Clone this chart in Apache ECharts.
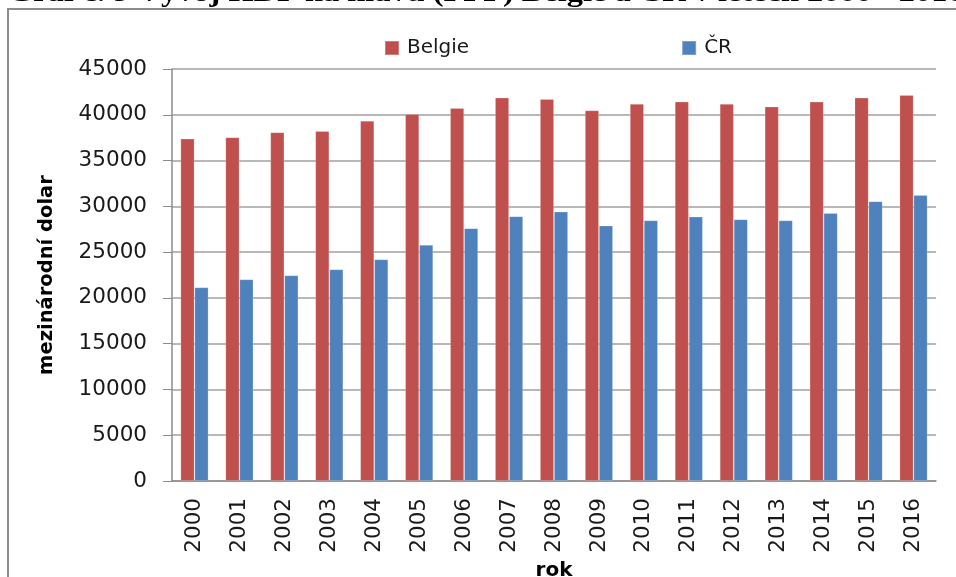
<!DOCTYPE html>
<html>
<head>
<meta charset="utf-8">
<script src="https://cdn.jsdelivr.net/npm/echarts@6/dist/echarts.min.js"></script>
<style>html,body{margin:0;padding:0;background:#fff}#c{width:956px;height:577px}</style>
</head>
<body>
<div id="c"></div>
<script>
const titleText = 'Graf č. 9 Vývoj HDP na hlavu (PPP) Belgie a ČR v letech 2000 - 2016';
const years = ['2000','2001','2002','2003','2004','2005','2006','2007','2008','2009','2010','2011','2012','2013','2014','2015','2016'];
const belgie = [37390,37540,38090,38230,39350,40080,40740,41870,41720,40480,41180,41430,41180,40890,41430,41870,42160];
const cr = [21150,22030,22460,23120,24210,25780,27600,28910,29420,27890,28470,28870,28580,28470,29270,30550,31240];
const seriesNames = ['Belgie','ČR'];

const chart = echarts.init(document.getElementById('c'), null, {renderer:'canvas'});
const tickFont = {fontFamily:'DejaVu Sans', fontSize:21.5, color:'#1a1a1a'};
chart.setOption({
  backgroundColor:'#fff',
  animation:false,
  graphic:[
    {type:'text', x:8, y:-19, scaleX:1.2, style:{text:titleText, font:'bold 27px "Liberation Serif"', fill:'#000'}},
    {type:'rect', shape:{x:8, y:9, width:1000, height:700}, style:{fill:'none', stroke:'#8c8c8c', lineWidth:2}}
  ],
  legend:{
    data:seriesNames, left:379, top:33, itemWidth:14, itemHeight:14, itemGap:212,
    icon:'rect',
    textStyle:{fontFamily:'DejaVu Sans', fontSize:20, color:'#1a1a1a', padding:[0,0,0,3]}
  },
  grid:{left:172, right:20, top:69, bottom:96, outerBoundsMode:'none', containLabel:false},
  xAxis:{
    type:'category', data:years,
    name:'rok', nameLocation:'middle', nameGap:75,
    nameTextStyle:{fontFamily:'DejaVu Sans', fontWeight:'bold', fontSize:20, color:'#000'},
    axisLine:{lineStyle:{color:'#8c8c8c', width:1.5}},
    axisTick:{length:9, lineStyle:{color:'#8c8c8c'}},
    axisLabel:Object.assign({rotate:90, margin:17, interval:0}, tickFont)
  },
  yAxis:{
    type:'value', min:0, max:45000, interval:5000,
    name:'mezinárodní dolar', nameLocation:'middle', nameGap:115,
    nameTextStyle:{fontFamily:'DejaVu Sans', fontWeight:'bold', fontSize:19.5, color:'#000'},
    axisLine:{show:true, lineStyle:{color:'#8c8c8c', width:1.5}},
    axisTick:{show:true, length:9, lineStyle:{color:'#8c8c8c'}},
    splitLine:{lineStyle:{color:'#a0a0a0', width:1.5}},
    axisLabel:Object.assign({margin:25, formatter:function(v){return String(v);}}, tickFont)
  },
  series:[
    {name:seriesNames[0], type:'bar', data:belgie, barWidth:14, barGap:'0%',
     itemStyle:{color:'#C0504D', borderColor:'rgba(255,255,255,0.25)', borderWidth:0.8}},
    {name:seriesNames[1], type:'bar', data:cr, barWidth:14, barGap:'0%',
     itemStyle:{color:'#4F81BD', borderColor:'rgba(255,255,255,0.25)', borderWidth:0.8}}
  ]
});
</script>
</body>
</html>
